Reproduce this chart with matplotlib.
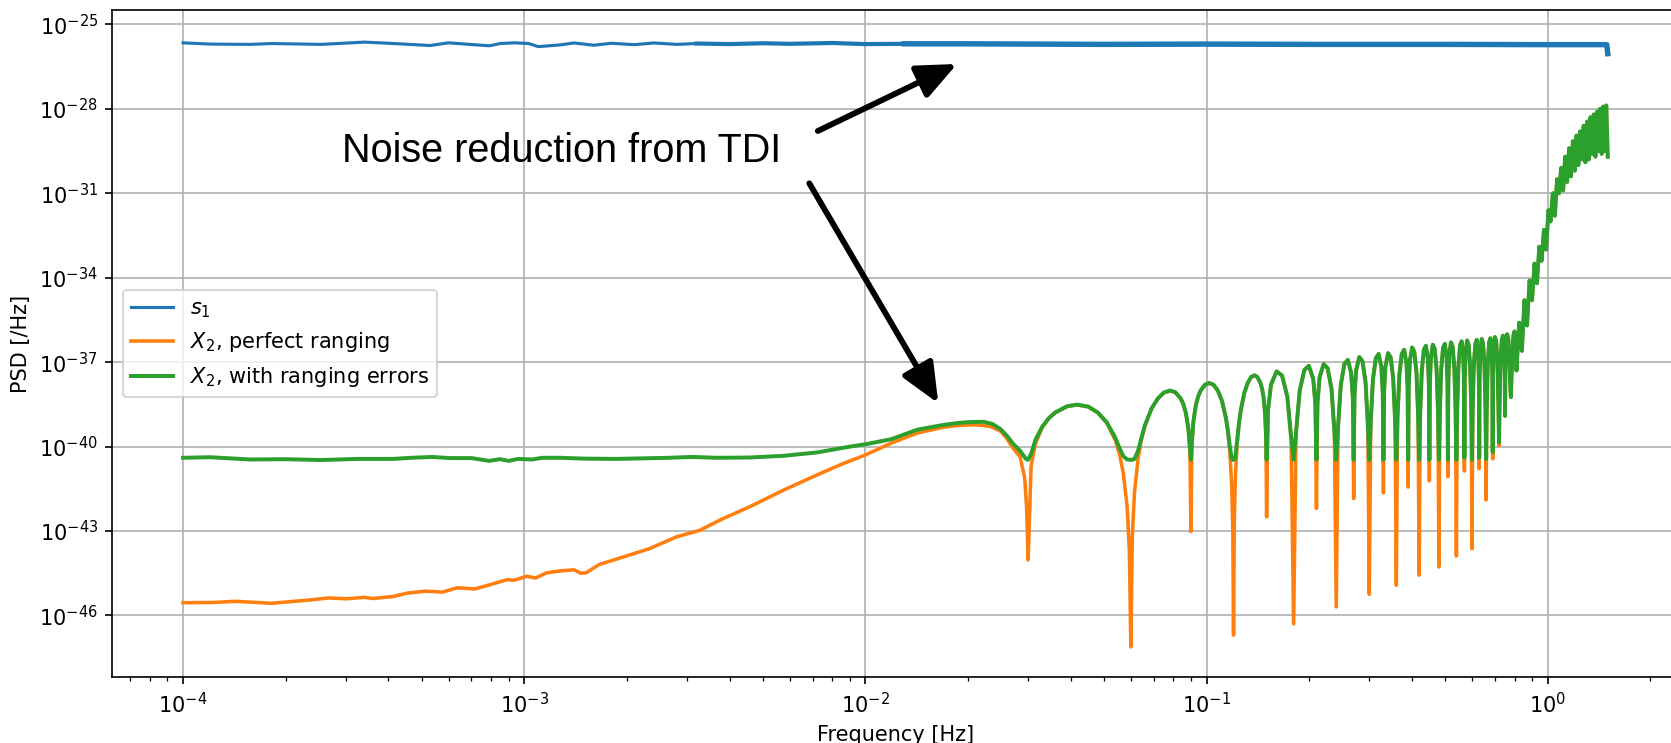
#!/usr/bin/env python3
"""PSD of single-link noise s1 vs TDI X2 (perfect ranging / with ranging errors)."""

import numpy as np
import matplotlib

matplotlib.use("Agg")
import matplotlib.pyplot as plt
from matplotlib.ticker import LogLocator, NullLocator

# ---- data (PSD given as log10 values) ----
F_S1 = [1.0e-4, 1.2e-4, 1.57e-4, 1.82e-4, 2.54e-4, 3.4e-4, 4.0e-4, 5.3e-4, 6.0e-4,
        7.9e-4, 8.5e-4, 9.4e-4, 1.03e-3, 1.1e-3, 1.27e-3, 1.4e-3, 1.6e-3, 1.8e-3,
        2.1e-3, 2.4e-3, 2.8e-3, 3.2e-3]
LOG_S1 = [-25.655, -25.70, -25.71, -25.68, -25.71, -25.63, -25.67, -25.75, -25.655,
          -25.76, -25.68, -25.655, -25.68, -25.79, -25.73, -25.66, -25.74, -25.67,
          -25.72, -25.66, -25.71, -25.68]
F_S1_MID = [3.2e-3, 4.0e-3, 5.0e-3, 6.0e-3, 8.0e-3, 1.0e-2, 1.3e-2]
LOG_S1_MID = [-25.68, -25.70, -25.67, -25.69, -25.66, -25.70, -25.69]
F_S1_HF = [1.3e-2, 2.0e-2, 5.0e-2, 0.1, 0.2, 0.5, 1.0, 1.49, 1.5]
LOG_S1_HF = [-25.69, -25.69, -25.71, -25.70, -25.71, -25.71, -25.72, -25.72, -26.04]

# X2 perfect ranging, below the first null
F_X2_LOW = [1.0e-4, 1.233e-4, 1.426e-4, 1.816e-4, 2.366e-4, 2.667e-4, 3.013e-4, 3.396e-4,
            3.606e-4, 4.121e-4, 4.539e-4, 5.117e-4, 5.768e-4, 6.353e-4, 7.161e-4, 7.889e-4,
            8.913e-4, 9.354e-4, 1.016e-3, 1.081e-3, 1.161e-3, 1.274e-3, 1.400e-3, 1.462e-3,
            1.517e-3, 1.660e-3, 1.945e-3, 2.328e-3, 2.793e-3, 3.266e-3, 3.828e-3, 4.581e-3,
            5.754e-3, 7.211e-3, 8.630e-3, 1.0e-2, 1.19e-2, 1.42e-2, 1.70e-2, 1.87e-2,
            2.04e-2, 2.19e-2, 2.33e-2, 2.49e-2, 2.60e-2, 2.71e-2, 2.84e-2, 2.93e-2, 2.97e-2]
LOG_X2_LOW = [-45.55, -45.54, -45.50, -45.57, -45.45, -45.38, -45.41, -45.36,
              -45.40, -45.33, -45.21, -45.14, -45.17, -45.02, -45.06, -44.92,
              -44.73, -44.75, -44.61, -44.67, -44.49, -44.42, -44.38, -44.50,
              -44.49, -44.19, -43.93, -43.63, -43.21, -42.98, -42.56, -42.14,
              -41.55, -41.01, -40.60, -40.30, -39.88, -39.52, -39.31, -39.25,
              -39.23, -39.24, -39.29, -39.45, -39.72, -40.06, -40.36, -41.10, -42.20]

# X2 with ranging errors, below the first null
F_X2E_LOW = [1.0e-4, 1.2e-4, 1.57e-4, 2.0e-4, 2.54e-4, 3.24e-4, 4.12e-4, 4.65e-4,
             5.37e-4, 6.05e-4, 7.0e-4, 7.89e-4, 8.49e-4, 9.02e-4, 9.57e-4, 1.054e-3,
             1.133e-3, 1.274e-3, 1.5e-3, 1.858e-3, 2.2e-3, 2.667e-3, 3.1e-3, 3.656e-3,
             4.58e-3, 5.75e-3, 7.21e-3, 9.04e-3, 1.0e-2, 1.19e-2, 1.42e-2, 1.70e-2,
             1.87e-2, 2.04e-2, 2.22e-2, 2.36e-2, 2.49e-2, 2.60e-2, 2.71e-2, 2.84e-2,
             2.93e-2, 2.97e-2]
LOG_X2E_LOW = [-40.40, -40.38, -40.46, -40.45, -40.48, -40.44, -40.44, -40.40,
               -40.37, -40.41, -40.41, -40.51, -40.45, -40.51, -40.44, -40.46,
               -40.40, -40.40, -40.43, -40.44, -40.42, -40.40, -40.37, -40.40,
               -40.39, -40.33, -40.21, -40.00, -39.92, -39.74, -39.40, -39.23,
               -39.16, -39.13, -39.12, -39.20, -39.38, -39.62, -39.90, -40.15,
               -40.38, -40.46]

# comb of TDI nulls (every 0.03 Hz): frequencies shared by both X2 curves
F_COMB = [
    0.030, 0.0306, 0.0315, 0.0330, 0.0345, 0.0360, 0.0390, 0.0417, 0.0450, 0.0480,
    0.0510, 0.0540, 0.0555, 0.0570, 0.0585, 0.0594,
    0.060, 0.0606, 0.0615, 0.0630, 0.0645, 0.0660, 0.0690, 0.0720, 0.0750, 0.0783,
    0.0810, 0.0840, 0.0855, 0.0870, 0.0885, 0.0894,
    0.090, 0.0906, 0.0915, 0.0930, 0.0945, 0.0960, 0.0990, 0.1017, 0.1050, 0.1080,
    0.1110, 0.1140, 0.1155, 0.1170, 0.1185, 0.1194,
    0.120, 0.1206, 0.1215, 0.1230, 0.1245, 0.1260, 0.1290, 0.1320, 0.1350, 0.1383,
    0.1410, 0.1440, 0.1455, 0.1470, 0.1485, 0.1494,
    0.150, 0.1515, 0.1545, 0.1605, 0.1665, 0.1725, 0.1770,
    0.180, 0.1830, 0.1875, 0.1935, 0.1995, 0.2055, 0.2085,
    0.210, 0.2115, 0.2145, 0.2205, 0.2265, 0.2325, 0.2370,
    0.240, 0.2430, 0.2475, 0.2535, 0.2595, 0.2655, 0.2685,
    0.270, 0.2715, 0.2745, 0.2805, 0.2865, 0.2925, 0.2970,
    0.300, 0.3030, 0.3075, 0.3135, 0.3195, 0.3255, 0.3285,
    0.330, 0.3315, 0.3345, 0.3405, 0.3465, 0.3525, 0.3570,
    0.360, 0.3630, 0.3675, 0.3735, 0.3795, 0.3855, 0.3885,
    0.390, 0.3915, 0.3945, 0.4005, 0.4065, 0.4125, 0.4170,
    0.420, 0.4230, 0.4275, 0.4335, 0.4395, 0.4455, 0.4485,
    0.450, 0.4515, 0.4545, 0.4605, 0.4665, 0.4725, 0.4770,
    0.480, 0.4830, 0.4875, 0.4935, 0.4995, 0.5055, 0.5085,
    0.510, 0.5115, 0.5145, 0.5205, 0.5265, 0.5325, 0.5370,
    0.540, 0.5430, 0.5475, 0.5535, 0.5595, 0.5655, 0.5685,
    0.570, 0.5715, 0.5745, 0.5805, 0.5865, 0.5925, 0.5970,
    0.600, 0.6030, 0.6075, 0.6135, 0.6195, 0.6255, 0.6285,
    0.630, 0.6315, 0.6345, 0.6405, 0.6465, 0.6525, 0.6570,
    0.660, 0.6630, 0.6675, 0.6735, 0.6795, 0.6855, 0.6885,
    0.690, 0.6915, 0.6945, 0.7005, 0.7065, 0.7125, 0.7170,
    0.720, 0.7230, 0.7275, 0.7335, 0.7395, 0.7455, 0.7485,
    0.750, 0.7515, 0.7545, 0.7605, 0.7665, 0.7725, 0.7770,
    0.780, 0.7830, 0.7875, 0.7935, 0.7995, 0.8055, 0.8085,
    0.810]
LOG_X2_COMB = [
    -44.03, -40.70, -39.91, -39.32, -39.00, -38.80, -38.58, -38.52, -38.59, -38.80,
    -39.16, -39.77, -40.24, -40.93, -42.12, -43.70,
    -47.12, -43.20, -41.62, -40.43, -39.74, -39.27, -38.66, -38.30, -38.09, -38.02,
    -38.08, -38.30, -38.50, -38.82, -39.41, -40.20,
    -43.02, -39.93, -39.14, -38.55, -38.23, -38.03, -37.81, -37.75, -37.82, -38.03,
    -38.39, -39.00, -39.47, -40.16, -41.35, -42.93,
    -46.70, -42.65, -41.07, -39.88, -39.19, -38.72, -38.11, -37.75, -37.54, -37.47,
    -37.53, -37.75, -37.95, -38.27, -38.86, -39.65,
    -42.50, -38.71, -37.80, -37.33, -37.48, -38.23, -39.73,
    -46.30, -39.53, -38.03, -37.28, -37.13, -37.60, -38.51,
    -42.20, -38.45, -37.54, -37.07, -37.22, -37.97, -39.47,
    -45.70, -39.32, -37.82, -37.07, -36.92, -37.39, -38.30,
    -41.85, -38.20, -37.29, -36.82, -36.97, -37.72, -39.22,
    -45.25, -39.11, -37.61, -36.86, -36.71, -37.18, -38.09,
    -41.65, -38.06, -37.15, -36.68, -36.83, -37.58, -39.08,
    -44.93, -38.96, -37.46, -36.71, -36.56, -37.03, -37.94,
    -41.44, -37.86, -36.95, -36.48, -36.63, -37.38, -38.88,
    -44.57, -38.82, -37.32, -36.57, -36.42, -36.89, -37.80,
    -41.22, -37.76, -36.85, -36.38, -36.53, -37.28, -38.78,
    -44.28, -38.75, -37.25, -36.50, -36.35, -36.82, -37.73,
    -41.07, -37.68, -36.77, -36.30, -36.45, -37.20, -38.70,
    -43.89, -38.66, -37.16, -36.41, -36.26, -36.73, -37.64,
    -40.87, -37.61, -36.70, -36.23, -36.38, -37.13, -38.63,
    -43.63, -38.61, -37.11, -36.36, -36.21, -36.68, -37.59,
    -40.79, -37.56, -36.65, -36.18, -36.33, -37.08, -38.58,
    -41.90, -38.55, -37.05, -36.30, -36.15, -36.62, -37.53,
    -40.44, -37.49, -36.58, -36.11, -36.26, -37.01, -38.51,
    -39.97, -38.46, -36.96, -36.21, -36.06, -36.53, -37.44,
    -38.92, -37.39, -36.48, -36.01, -36.16, -36.91, -37.90,
    -38.25, -37.60, -36.81, -36.06, -35.91, -36.38, -36.90,
    -37.30]
LOG_X2E_COMB = [
    -40.47, -40.27, -39.77, -39.29, -38.99, -38.79, -38.57, -38.51, -38.58, -38.79,
    -39.14, -39.68, -40.04, -40.34, -40.46, -40.47,
    -40.47, -40.47, -40.44, -40.15, -39.67, -39.24, -38.65, -38.29, -38.08, -38.01,
    -38.07, -38.29, -38.49, -38.81, -39.38, -40.01,
    -40.47, -39.82, -39.12, -38.54, -38.22, -38.02, -37.80, -37.74, -37.81, -38.02,
    -38.38, -38.99, -39.43, -39.99, -40.42, -40.47,
    -40.47, -40.47, -40.37, -39.76, -39.17, -38.71, -38.10, -37.74, -37.53, -37.47,
    -37.53, -37.75, -37.95, -38.27, -38.85, -39.59,
    -40.47, -38.70, -37.80, -37.33, -37.48, -38.22, -39.66,
    -40.47, -39.49, -38.02, -37.28, -37.13, -37.60, -38.50,
    -40.47, -38.44, -37.54, -37.07, -37.22, -37.96, -39.43,
    -40.47, -39.29, -37.81, -37.07, -36.92, -37.39, -38.29,
    -40.47, -38.19, -37.29, -36.82, -36.97, -37.71, -39.20,
    -40.47, -39.09, -37.61, -36.86, -36.71, -37.18, -38.08,
    -40.47, -38.05, -37.15, -36.68, -36.83, -37.58, -39.06,
    -40.47, -38.95, -37.46, -36.71, -36.56, -37.03, -37.93,
    -40.47, -37.85, -36.95, -36.48, -36.63, -37.38, -38.87,
    -40.47, -38.81, -37.32, -36.57, -36.42, -36.89, -37.80,
    -40.47, -37.76, -36.85, -36.38, -36.53, -37.28, -38.77,
    -40.47, -38.74, -37.25, -36.50, -36.35, -36.82, -37.73,
    -40.47, -37.68, -36.77, -36.30, -36.45, -37.20, -38.69,
    -40.47, -38.65, -37.16, -36.41, -36.26, -36.73, -37.64,
    -40.40, -37.61, -36.70, -36.23, -36.38, -37.13, -38.62,
    -40.47, -38.60, -37.11, -36.36, -36.21, -36.68, -37.59,
    -40.40, -37.56, -36.65, -36.18, -36.33, -37.08, -38.57,
    -40.45, -38.54, -37.05, -36.30, -36.15, -36.62, -37.53,
    -40.20, -37.49, -36.58, -36.11, -36.26, -37.01, -38.50,
    -39.85, -38.45, -36.96, -36.21, -36.06, -36.53, -37.44,
    -38.91, -37.39, -36.48, -36.01, -36.16, -36.91, -37.90,
    -38.24, -37.60, -36.81, -36.06, -35.91, -36.38, -36.90,
    -37.30]

# steep rise above 0.8 Hz (both X2 curves overlap): lobe tops and null dips
F_RISE = [0.825, 0.840, 0.855, 0.870, 0.885, 0.900, 0.915, 0.930, 0.945, 0.960,
          0.975, 0.990, 1.005, 1.020, 1.035, 1.050, 1.065, 1.080, 1.095, 1.110,
          1.125, 1.140, 1.155, 1.170, 1.185, 1.200, 1.215, 1.230, 1.245, 1.260,
          1.275, 1.290, 1.305, 1.320, 1.335, 1.350, 1.365, 1.380, 1.395, 1.410,
          1.425, 1.440, 1.455, 1.470, 1.485, 1.500]
LOG_RISE = [-35.6, -36.6, -34.8, -35.7, -34.1, -34.8, -33.5, -34.2, -32.9, -33.4,
            -32.3, -33.0, -31.6, -32.0, -31.0, -31.8, -30.5, -31.0, -30.1, -30.9,
            -29.7, -30.6, -29.4, -30.4, -29.15, -30.2, -28.95, -30.0, -28.8, -29.8,
            -28.6, -29.9, -28.45, -29.8, -28.3, -29.6, -28.2, -29.7, -28.1, -29.5,
            -28.0, -29.6, -27.92, -29.5, -27.88, -29.7]

Y_TICK_EXP = [-46, -43, -40, -37, -34, -31, -28, -25]

LABELS = [r"$s_1$", r"$X_2$, perfect ranging", r"$X_2$, with ranging errors"]
ANNOT_TEXT = "Noise reduction from TDI"


def main() -> None:
    fig = plt.figure(figsize=(1671 / 150, 743 / 150), dpi=150)
    ax = fig.add_axes([0.0673, 0.0888, 0.9375, 0.8973])

    c_blue, c_orange, c_green = "#1f77b4", "#ff7f0e", "#2ca02c"

    ax.plot(F_S1, np.power(10.0, LOG_S1), color=c_blue, lw=1.5, label=LABELS[0])
    ax.plot(F_S1_MID, np.power(10.0, LOG_S1_MID), color=c_blue, lw=2.0)
    ax.plot(F_S1_HF, np.power(10.0, LOG_S1_HF), color=c_blue, lw=2.6)

    ax.plot(F_X2_LOW + F_COMB + F_RISE,
            np.power(10.0, LOG_X2_LOW + LOG_X2_COMB + LOG_RISE),
            color=c_orange, lw=1.7, label=LABELS[1])
    ax.plot(F_X2E_LOW + F_COMB + F_RISE,
            np.power(10.0, LOG_X2E_LOW + LOG_X2E_COMB + LOG_RISE),
            color=c_green, lw=1.9, label=LABELS[2])

    ax.set_xscale("log")
    ax.set_yscale("log")
    ax.set_xlim(10 ** -4.207, 10 ** 0.385)
    ax.set_ylim(10 ** -48.19, 10 ** -24.50)
    ax.set_yticks([10.0 ** e for e in Y_TICK_EXP])
    ax.yaxis.set_minor_locator(NullLocator())
    ax.xaxis.set_minor_locator(LogLocator(base=10, subs=np.arange(2, 10)))
    ax.grid(True)
    ax.set_xlabel("Frequency [Hz]")
    ax.set_ylabel("PSD [/Hz]")
    ax.legend(loc="center left")

    # annotation text + arrows (placed in figure pixels of the 1671x743 canvas)
    W, H = 1671.0, 743.0
    fig.text(342 / W, 1 - 161.7 / H, ANNOT_TEXT, fontsize=19, va="baseline",
             ha="left", family=["Liberation Sans", "DejaVu Sans"])
    arrow = dict(arrowstyle="-|>,head_length=0.8,head_width=0.35", lw=2.8, color="black",
                 shrinkA=0, shrinkB=0, mutation_scale=20)
    ax.annotate("", xy=(957 / W, 1 - 64 / H), xytext=(817.8 / W, 1 - 131 / H),
                xycoords="figure fraction", textcoords="figure fraction", arrowprops=arrow)
    ax.annotate("", xy=(938.3 / W, 1 - 403.3 / H), xytext=(809.3 / W, 1 - 183.3 / H),
                xycoords="figure fraction", textcoords="figure fraction", arrowprops=arrow)

    fig.savefig("out.png", dpi=150)
    plt.close(fig)


if __name__ == "__main__":
    main()
